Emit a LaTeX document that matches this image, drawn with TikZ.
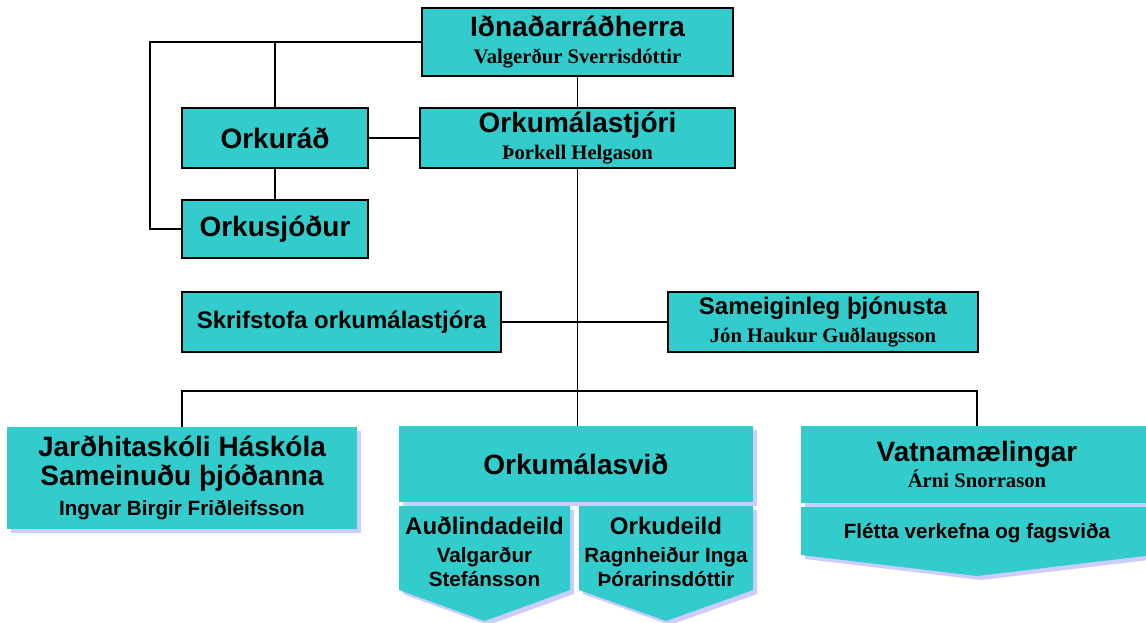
\documentclass[tikz,border=0pt]{standalone}
\usepackage{fontspec}
\setmainfont{Liberation Sans}
\newfontfamily\seriffam{Liberation Serif}
\usetikzlibrary{shadows}

\definecolor{boxteal}{HTML}{33CCCC}
\definecolor{shadelav}{HTML}{CCCCFF}

\newcommand{\ttlfont}{\fontsize{21}{22}\selectfont\bfseries}
\newcommand{\midfont}{\fontsize{18}{20}\selectfont\bfseries}
\newcommand{\subfont}{\fontsize{15.5}{18}\selectfont\bfseries}
\newcommand{\nmfont}{\seriffam\fontsize{15.5}{18}\selectfont\bfseries}

\tikzset{
  lined/.style={draw=black, line width=1.1pt, fill=boxteal, inner sep=0pt, align=center,
    font=\fontsize{15.5}{20.5}\selectfont},
  shaded/.style={fill=boxteal, inner sep=0pt, align=center,
    font=\fontsize{15.5}{19}\selectfont,
    drop shadow={shadow xshift=3pt, shadow yshift=-3pt, fill=shadelav, opacity=1}},
  arrowshade/.style={fill=boxteal,
    drop shadow={shadow xshift=3pt, shadow yshift=-3pt, fill=shadelav, opacity=1}},
  inlabel/.style={align=center, inner sep=0pt, font=\fontsize{15.5}{18}\selectfont},
  conn/.style={line width=1pt},
}

\begin{document}
\begin{tikzpicture}[x=0.75pt, y=-0.75pt]
\useasboundingbox (0,0) rectangle (1146,622);

% upper boxes
\node[lined, minimum width=233pt, minimum height=51pt] (minister) at (577.5,42) {{\ttlfont Iðnaðarráðherra}\\{\nmfont Valgerður Sverrisdóttir}};
\node[lined, minimum width=139.5pt, minimum height=45pt] (orkurad) at (275,138) {\ttlfont Orkuráð};
\node[lined, minimum width=236pt, minimum height=45pt] (stjori) at (577.5,138) {{\ttlfont Orkumálastjóri}\\{\nmfont Þorkell Helgason}};
\node[lined, minimum width=139.5pt, minimum height=43.5pt] (sjodur) at (275,229) {\ttlfont Orkusjóður};
\node[lined, minimum width=239pt, minimum height=45pt] (skrif) at (341.5,322) {\midfont Skrifstofa orkumálastjóra};
\node[lined, minimum width=232.5pt, minimum height=45pt] (sameig) at (823,322) {{\midfont Sameiginleg þjónusta}\\{\nmfont Jón Haukur Guðlaugsson}};

% lower boxes
\node[shaded, minimum width=262.5pt, minimum height=76.5pt, font=\fontsize{15.5}{21.5}\selectfont] (skoli) at (182,478) {{\ttlfont Jarðhitaskóli Háskóla}\\{\ttlfont Sameinuðu þjóðanna}\\[1pt]{\subfont Ingvar Birgir Friðleifsson}};
\node[shaded, minimum width=265.5pt, minimum height=57pt] (svid) at (576,464) {\ttlfont Orkumálasvið};
\node[shaded, minimum width=264pt, minimum height=57.75pt] (vatn) at (977,464.5) {{\ttlfont Vatnamælingar}\\{\nmfont Árni Snorrason}};

\fill[arrowshade] (399,506) -- (570,506) -- (570,590) -- (484.5,621) -- (399,590) -- cycle;
\fill[arrowshade] (579,506) -- (753,506) -- (753,590) -- (666,621) -- (579,590) -- cycle;
\fill[arrowshade] (801,507) -- (1153,507) -- (1153,555) -- (977,576) -- (801,555) -- cycle;

\node[inlabel] (audl) at (484.5,552) {{\midfont Auðlindadeild}\\[3pt]{\subfont Valgarður}\\{\subfont Stefánsson}};
\node[inlabel] (orkud) at (666,552) {{\midfont Orkudeild}\\[3pt]{\subfont Ragnheiður Inga}\\{\subfont Þórarinsdóttir}};
\node[inlabel] (flett) at (977,533) {\subfont Flétta verkefna og fagsviða};

% connectors
\coordinate (lft) at (150,229);
\coordinate (bus) at (577.5,391);
\draw[conn] (minister.west) -| (lft) -- (sjodur.west);
\draw[conn] (orkurad.north) -- (orkurad.north |- minister.west);
\draw[conn] (orkurad.south) -- (sjodur.north);
\draw[conn] (orkurad.east) -- (stjori.west);
\draw[conn] (minister.south) -- (stjori.north);
\draw[conn] (stjori.south) -- (stjori.south |- svid.north);
\draw[conn] (skrif.east) -- (sameig.west);
\draw[conn] (skoli.north) |- (bus) -| (vatn.north);
\end{tikzpicture}
\end{document}
